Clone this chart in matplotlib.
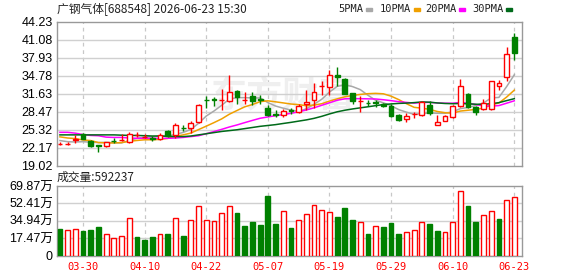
import numpy as np
import pandas as pd
import matplotlib
matplotlib.use('Agg')
import matplotlib.pyplot as plt

# ---- data ----
title = '广钢气体[688548] 2026-06-23 15:30'
date_labels = ['03-30', '04-10', '04-22', '05-07', '05-19', '05-29', '06-10', '06-23']
date_pos = [3, 11, 19, 27, 35, 43, 51, 59]

opens = [22.82, 22.82, 23.45, 24.55, 23.35, 22.6, 22.4, 23.38, 23.5, 23.2,
         24.35, 24.0, 23.8, 23.7, 25.15, 24.3, 25.65, 25.6, 26.6, 30.6,
         30.65, 30.55, 30.3, 32.15, 30.5, 31.3, 30.7, 29.2, 28.0, 27.95,
         28.75, 28.4, 29.8, 30.45, 32.95, 32.8, 34.95, 34.25, 31.7, 30.35,
         30.05, 30.1, 29.82, 29.4, 27.94, 27.24, 28.05, 27.89, 29.69, 26.07,
         26.77, 27.54, 29.52, 31.57, 29.22, 28.94, 29.0, 32.9, 34.65, 41.55]
highs = [23.15, 23.1, 24.3, 24.75, 23.55, 22.65, 23.2, 23.8, 24.5, 24.95,
         24.9, 24.6, 24.2, 24.8, 25.3, 26.5, 26.05, 26.8, 29.8, 31.15,
         31.0, 32.45, 34.95, 32.3, 31.9, 31.9, 31.4, 29.7, 28.8, 28.9,
         29.2, 29.9, 32.2, 33.6, 33.9, 35.8, 36.4, 34.4, 31.8, 31.15,
         30.6, 30.5, 30.0, 29.9, 28.0, 28.3, 28.4, 30.3, 30.4, 27.9,
         27.9, 29.6, 34.25, 31.8, 29.5, 30.7, 33.8, 34.07, 39.8, 42.36]
lows = [22.55, 22.6, 23.0, 23.6, 22.2, 21.35, 22.3, 23.0, 23.3, 22.95,
        24.05, 23.8, 23.3, 23.5, 24.0, 23.9, 25.05, 24.75, 26.5, 29.1,
        29.4, 28.8, 30.2, 29.8, 29.8, 29.6, 29.9, 27.65, 27.6, 27.6,
        28.1, 28.2, 28.8, 29.2, 31.45, 31.45, 32.9, 31.5, 29.8, 28.35,
        29.4, 29.3, 29.3, 27.5, 26.9, 26.7, 27.3, 27.7, 27.9, 26.07,
        26.77, 27.4, 29.3, 29.1, 27.9, 28.8, 28.8, 32.2, 33.78, 37.57]
closes = [22.86, 22.88, 23.7, 23.75, 22.4, 22.5, 23.1, 23.34, 23.56, 24.56,
          24.4, 24.05, 23.75, 24.4, 24.15, 26.2, 25.6, 26.5, 29.7, 30.55,
          30.6, 30.6, 32.0, 30.97, 30.55, 30.3, 30.6, 27.95, 27.94, 28.65,
          28.65, 29.5, 30.17, 31.92, 33.05, 34.95, 34.5, 31.6, 30.3, 30.4,
          30.0, 30.05, 29.4, 27.77, 26.94, 27.77, 28.12, 30.17, 28.24, 26.66,
          27.77, 29.4, 33.02, 29.22, 28.42, 30.0, 33.78, 33.5, 38.63, 38.85]

# volume in units of 10k (万)
volumes = [26.3, 25.3, 27.0, 24.3, 25.3, 28.4, 22.0, 17.9, 20.0, 38.2,
           18.2, 15.2, 18.2, 22.0, 21.3, 37.2, 19.2, 35.4, 49.3, 35.4,
           34.4, 42.5, 49.3, 42.5, 29.4, 33.4, 30.4, 59.7, 31.4, 44.6,
           27.6, 35.4, 42.2, 50.3, 45.6, 43.5, 38.5, 47.6, 35.8, 33.4,
           21.6, 29.4, 28.7, 32.4, 21.6, 23.3, 25.3, 33.4, 31.4, 24.6,
           23.3, 33.4, 64.8, 49.6, 33.4, 41.2, 45.2, 36.5, 55.4, 59.2237]
# 1 = red (up on the day), 0 = green
vol_up = [0, 1, 1, 0, 0, 0, 1, 1, 1, 1,
          0, 0, 0, 1, 0, 1, 0, 1, 1, 1,
          1, 1, 1, 0, 0, 0, 0, 0, 0, 1,
          0, 1, 1, 1, 1, 1, 0, 0, 0, 1,
          0, 1, 0, 0, 0, 1, 1, 1, 0, 0,
          1, 1, 1, 0, 0, 1, 1, 0, 1, 1]

# moving-average values before enough closes are in the window
ma5_head = [23.4, 23.2, 23.15, 23.2]
ma10_head = [24.05, 23.85, 23.75, 23.5, 23.4, 23.05, 23.0, 22.98, 23.05]
ma20_head = [24.85, 24.85, 24.7, 24.45, 24.3, 24.25, 24.0, 23.95, 23.95, 23.85,
             23.8, 23.8, 23.8, 23.8, 23.8, 23.85, 23.95, 24.1, 24.25]
ma30_head = [24.4, 24.4, 24.4, 24.4, 24.4, 24.4, 24.4, 24.4, 24.35, 24.3,
             24.3, 24.25, 24.2, 24.2, 24.15, 24.1, 24.1, 24.2, 24.4, 24.6,
             24.8, 25.0, 25.15, 25.3, 25.5, 25.7, 25.9, 26.05, 26.2]

price_ticks = [19.02, 22.17, 25.32, 28.47, 31.63, 34.78, 37.93, 41.08, 44.23]
vol_ticks = [0, 17.47, 34.94, 52.41, 69.87]

# ---- colours ----
RED = '#ff0000'
GREEN = '#008000'
GRID = '#d0d0d0'
FRAME = '#999999'
ma_colors = {'5PMA': '#a8a8a8', '10PMA': '#f0a000', '20PMA': '#ff00ff', '30PMA': '#006a1a'}

W, H = 578, 276


def fx(px):
    return px / W


def fy(py):
    return 1 - py / H


def moving_avg(c, n, head):
    vals = pd.Series(c).rolling(n).mean().values
    vals[:n - 1] = head
    return vals


o = np.array(opens)
hi = np.array(highs)
lo = np.array(lows)
c = np.array(closes)
v = np.array(volumes)
n = len(c)
x = np.arange(n)

fig = plt.figure(figsize=(W / 100, H / 100), dpi=100)
fig.patch.set_facecolor('white')

ax = fig.add_axes([fx(57), fy(165.5), fx(522 - 57), (165.5 - 22) / H])
axv = fig.add_axes([fx(57), fy(255.5), fx(522 - 57), (255.5 - 186) / H])

for a in (ax, axv):
    a.set_xlim(-0.38, 60.0)
    for s in a.spines.values():
        s.set_color(FRAME)
        s.set_linewidth(1)
    a.set_xticks(date_pos)
    for p in date_pos:
        a.axvline(p, color='#c8c8c8', lw=0.9, ls=(0, (3, 3)), zorder=0)
    a.tick_params(length=0)

# watermark
ax.text(29, 31.2, '东方财富', fontsize=26, color='#efefef', ha='center', va='center',
        family=['Noto Sans CJK SC'], fontweight='bold', zorder=0)

# price grid
ax.set_ylim(price_ticks[0], price_ticks[-1])
ax.set_yticks(price_ticks)
ax.set_yticklabels(['%.2f' % t for t in price_ticks], fontsize=9, family='Liberation Sans')
ax.tick_params(axis='y', pad=3)
ax.set_xticklabels([])
for t in price_ticks[1:-1]:
    ax.axhline(t, color=GRID, lw=1, zorder=0)

# moving averages
ma_lines = {
    '5PMA': moving_avg(c, 5, ma5_head),
    '10PMA': moving_avg(c, 10, ma10_head),
    '20PMA': moving_avg(c, 20, ma20_head),
    '30PMA': moving_avg(c, 30, ma30_head),
}
for name, vals in ma_lines.items():
    ax.plot(x, vals, color=ma_colors[name], lw=1.1, zorder=2)

# candles
up = c >= o
cols = np.where(up, RED, GREEN)
body_lo = np.minimum(o, c)
body_hi = np.maximum(o, c)
ax.vlines(x, lo, body_lo, color=cols, lw=1, zorder=3)
ax.vlines(x, body_hi, hi, color=cols, lw=1, zorder=3)
ax.bar(x, np.maximum(body_hi - body_lo, 0.05), bottom=body_lo, width=0.62,
       color=np.where(up, 'white', GREEN), edgecolor=cols, lw=1, zorder=4)

# volume
vcols = np.where(np.array(vol_up) == 1, RED, GREEN)
axv.bar(x, v, width=0.62, color=np.where(np.array(vol_up) == 1, 'white', GREEN),
        edgecolor=vcols, lw=1, zorder=3)
axv.set_ylim(0, vol_ticks[-1])
axv.set_yticks(vol_ticks)
axv.set_yticklabels(['0'] + ['%.2f万' % t for t in vol_ticks[1:]], fontsize=9,
                    family=['Liberation Sans', 'Noto Sans CJK SC'])
axv.tick_params(axis='y', pad=3)
for t in vol_ticks[1:-1]:
    axv.axhline(t, color=GRID, lw=1, zorder=0)
axv.set_xticklabels(date_labels, color=RED, fontsize=7.5, family='DejaVu Sans Mono')
axv.tick_params(axis='x', pad=5)

# header texts
fig.text(fx(57), fy(9), title, fontsize=8.5, family=['Noto Sans CJK SC'],
         ha='left', va='center', color='#222222')
fig.text(fx(57), fy(177), '成交量:%d' % round(volumes[-1] * 10000), fontsize=8.5,
         family=['Noto Sans CJK SC'], ha='left', va='center', color='#222222')

# legend
leg_x = [338, 380, 425, 472]
for lx, (name, col) in zip(leg_x, ma_colors.items()):
    t = fig.text(fx(lx), fy(9), name, fontsize=7.5, family='DejaVu Sans Mono',
                 ha='left', va='center', color='#222222')
    sq = lx + 6 * len(name) + 4
    fig.patches.append(plt.Rectangle((fx(sq), fy(11)), fx(6), 3 / H, color=col,
                                     transform=fig.transFigure, figure=fig))

fig.savefig('out.png', dpi=100, facecolor='white')
